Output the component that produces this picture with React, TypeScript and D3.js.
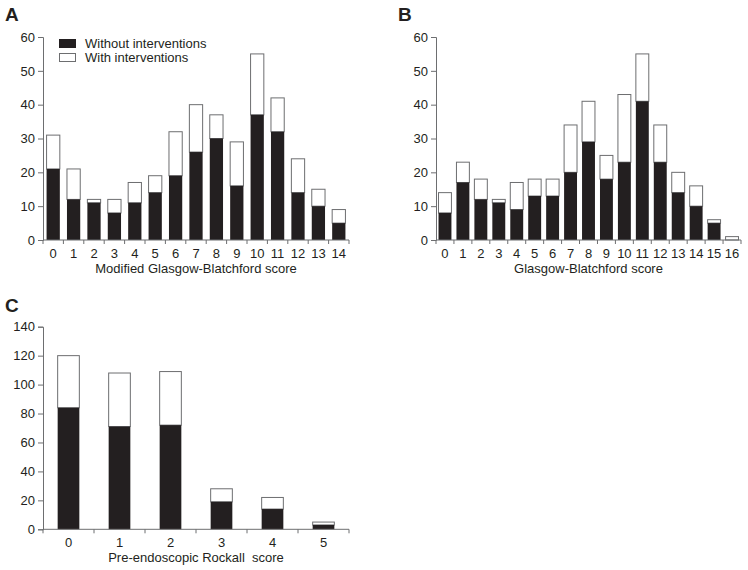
import React, { useEffect, useRef } from 'react';
import * as d3 from 'd3';

// Panel A: modified Glasgow-Blatchford score
const mgbsScores = ['0', '1', '2', '3', '4', '5', '6', '7', '8', '9', '10', '11', '12', '13', '14'];
const mgbsWithout = [21, 12, 11, 8, 11, 14, 19, 26, 30, 16, 37, 32, 14, 10, 5];
const mgbsTotal = [31, 21, 12, 12, 17, 19, 32, 40, 37, 29, 55, 42, 24, 15, 9];

// Panel B: Glasgow-Blatchford score
const gbsScores = ['0', '1', '2', '3', '4', '5', '6', '7', '8', '9', '10', '11', '12', '13', '14', '15', '16'];
const gbsWithout = [8, 17, 12, 11, 9, 13, 13, 20, 29, 18, 23, 41, 23, 14, 10, 5, 0];
const gbsTotal = [14, 23, 18, 12, 17, 18, 18, 34, 41, 25, 43, 55, 34, 20, 16, 6, 1];

// Panel C: pre-endoscopic Rockall score
const rockallScores = ['0', '1', '2', '3', '4', '5'];
const rockallWithout = [84, 71, 72, 19, 14, 3];
const rockallTotal = [120, 108, 109, 28, 22, 5];

const legendLabels = ['Without interventions', 'With interventions'];

const FONT = 'Liberation Sans, Arial, sans-serif';
const BLACK = '#231f20';
const GREY = '#6d6e70';

type Panel = {
  letter: string;
  letterX: number;
  letterY: number;
  x0: number;
  x1: number;
  yTop: number;
  yBase: number;
  yMax: number;
  yStep: number;
  padding: number;
  cats: string[];
  without: number[];
  total: number[];
  title: string;
  legend?: boolean;
};

const panels: Panel[] = [
  { letter: 'A', letterX: 5, letterY: 21, x0: 43, x1: 349, yTop: 37, yBase: 240, yMax: 60, yStep: 10, padding: 0.35,
    cats: mgbsScores, without: mgbsWithout, total: mgbsTotal, title: 'Modified Glasgow-Blatchford score', legend: true },
  { letter: 'B', letterX: 398, letterY: 21, x0: 436, x1: 741, yTop: 37, yBase: 240, yMax: 60, yStep: 10, padding: 0.28,
    cats: gbsScores, without: gbsWithout, total: gbsTotal, title: 'Glasgow-Blatchford score' },
  { letter: 'C', letterX: 5, letterY: 312, x0: 43, x1: 349, yTop: 326.7, yBase: 529.3, yMax: 140, yStep: 20, padding: 0.575,
    cats: rockallScores, without: rockallWithout, total: rockallTotal, title: 'Pre-endoscopic Rockall  score' },
];

const Chart = () => {
  const ref = useRef<SVGSVGElement>(null);

  useEffect(() => {
    if (!ref.current) return;
    const svg = d3.select(ref.current);
    svg.selectAll('*').remove();

    panels.forEach(p => {
      const g = svg.append('g');
      const x = d3.scaleBand<string>()
        .domain(p.cats)
        .range([p.x0, p.x1])
        .paddingInner(p.padding)
        .paddingOuter(p.padding / 2);
      const y = d3.scaleLinear().domain([0, p.yMax]).range([p.yBase, p.yTop]);

      g.append('text')
        .attr('x', p.letterX)
        .attr('y', p.letterY)
        .style('font-family', FONT)
        .style('font-weight', 'bold')
        .style('font-size', '19px')
        .attr('fill', BLACK)
        .text(p.letter);

      // bars: white (with interventions) stacked on black (without)
      p.cats.forEach((c, i) => {
        const bx = x(c) as number;
        const bw = x.bandwidth();
        g.append('rect')
          .attr('x', bx)
          .attr('y', y(p.total[i]))
          .attr('width', bw)
          .attr('height', y(p.without[i]) - y(p.total[i]))
          .attr('fill', 'white')
          .attr('stroke', GREY)
          .attr('stroke-width', 1);
        if (p.without[i] > 0) {
          g.append('rect')
            .attr('x', bx)
            .attr('y', y(p.without[i]))
            .attr('width', bw)
            .attr('height', p.yBase - y(p.without[i]))
            .attr('fill', BLACK);
        }
      });

      // y axis
      const yAxis = g.append('g')
        .attr('transform', `translate(${p.x0},0)`)
        .call(d3.axisLeft(y).tickValues(d3.range(0, p.yMax + 1, p.yStep)).tickSize(5).tickPadding(3));
      yAxis.select('.domain').attr('stroke', GREY);
      yAxis.selectAll('.tick line').attr('stroke', GREY);
      yAxis.selectAll('.tick text')
        .style('font-family', FONT)
        .style('font-size', '13px')
        .attr('fill', BLACK);

      // x axis: ticks at band edges, labels at centers
      const step = x.step();
      const edges = d3.range(p.cats.length + 1).map(i => p.x0 + i * step);
      g.append('line')
        .attr('x1', p.x0).attr('x2', p.x1)
        .attr('y1', p.yBase).attr('y2', p.yBase)
        .attr('stroke', GREY);
      g.selectAll('.xtick')
        .data(edges)
        .enter()
        .append('line')
        .attr('x1', d => d).attr('x2', d => d)
        .attr('y1', p.yBase).attr('y2', p.yBase + 4)
        .attr('stroke', GREY);
      g.selectAll('.xlabel')
        .data(p.cats)
        .enter()
        .append('text')
        .attr('x', d => (x(d) as number) + x.bandwidth() / 2)
        .attr('y', p.yBase + 18)
        .attr('text-anchor', 'middle')
        .style('font-family', FONT)
        .style('font-size', '13px')
        .attr('fill', BLACK)
        .text(d => d);

      g.append('text')
        .attr('x', (p.x0 + p.x1) / 2)
        .attr('y', p.yBase + 33)
        .attr('text-anchor', 'middle')
        .style('font-family', FONT)
        .style('font-size', '13px')
        .attr('fill', BLACK)
        .style('white-space', 'pre')
        .text(p.title);

      if (p.legend) {
        legendLabels.forEach((label, i) => {
          g.append('rect')
            .attr('x', 59.5)
            .attr('y', 39.5 + i * 14)
            .attr('width', 16)
            .attr('height', 8)
            .attr('fill', i === 0 ? BLACK : 'white')
            .attr('stroke', i === 0 ? BLACK : GREY);
          g.append('text')
            .attr('x', 85)
            .attr('y', 48 + i * 14)
            .style('font-family', FONT)
            .style('font-size', '13px')
            .attr('fill', BLACK)
            .text(label);
        });
      }
    });
  }, []);

  return (
    <svg
      ref={ref}
      width={748}
      height={570}
      style={{ position: 'absolute', left: 0, top: 0, background: 'white' }}
    />
  );
};

export default function App() {
  return <Chart />;
}
